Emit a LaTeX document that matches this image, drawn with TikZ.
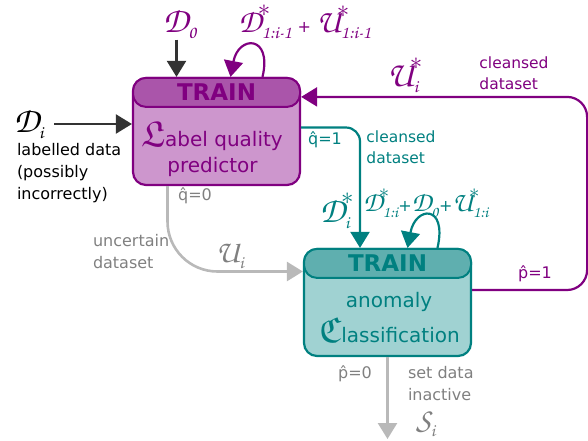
\documentclass[tikz,border=0pt]{standalone}
\usepackage{amsmath}
\usepackage{amssymb}
\usepackage{fontspec}
\setmainfont{DejaVu Sans}
\usetikzlibrary{arrows.meta,calc,positioning}
\newcommand{\chz}[1]{\text{\fontencoding{OT1}\fontfamily{pzc}\fontseries{m}\fontshape{it}\selectfont #1}}
\newcommand{\subsz}{18}
\newcommand{\dsym}[3]{$\chz{#1}^{#2}_{\text{\fontsize{\subsz}{\subsz}\fontencoding{OT1}\fontfamily{pzc}\fontseries{m}\fontshape{it}\selectfont #3}}$}
\newcommand{\dstr}{\kern-4pt\raisebox{0.12em}{$\scriptstyle\ast$}}
\newcommand{\splus}{{\fontsize{16}{16}\selectfont+}}
\definecolor{lqline}{RGB}{128,0,128}
\definecolor{lqhead}{RGB}{170,85,170}
\definecolor{lqbody}{RGB}{205,150,205}
\definecolor{acline}{RGB}{0,128,128}
\definecolor{achead}{RGB}{95,175,175}
\definecolor{acbody}{RGB}{160,210,210}
\definecolor{flowgrey}{RGB}{185,185,185}
\definecolor{txtgrey}{RGB}{128,128,128}
\tikzset{every picture/.style={line width=2pt},
  modelbox/.style={draw, rounded corners=13pt, line width=2.2pt, minimum width=167pt, minimum height=107pt, inner sep=0pt},
  headbox/.style={draw, rounded corners=13pt, line width=2pt, minimum width=167pt, minimum height=29pt, inner sep=0pt, font=\fontsize{23}{23}\selectfont\bfseries},
  boxtext/.style={font=\fontsize{20}{24}\selectfont, inner sep=0pt, anchor=base},
  lbl/.style={font=\fontsize{16}{22}\selectfont, align=left, inner sep=0pt},
  sym/.style={font=\fontsize{36}{36}\selectfont, inner sep=0pt},
  flow/.style={-{Triangle[length=16pt,width=19pt]}, line width=2.2pt}}

\begin{document}
\begin{tikzpicture}[x=1pt,y=1pt,yscale=-1]
\useasboundingbox (0,0) rectangle (588,440);

% label quality predictor
\node[modelbox, draw=lqline, fill=lqbody] (lqp) at (216.5,131.5) {};
\node[headbox, draw=lqline, fill=lqhead, text=lqline, anchor=north] (lqhd) at (lqp.north) {TRAIN};
\node[boxtext, text=lqline] (lqt1) at (212,146) {{\fontsize{36}{36}\selectfont$\mathfrak{L}$}abel quality};
\node[boxtext, text=lqline] (lqt2) at (212.5,172) {predictor};

% anomaly classification
\node[modelbox, draw=acline, fill=acbody] (acl) at (387.5,302.5) {};
\node[headbox, draw=acline, fill=achead, text=acline, anchor=north] (achd) at (acl.north) {TRAIN};
\node[boxtext, text=acline] (act1) at (389,307) {anomaly};
\node[boxtext, text=acline] (act2) at (389.5,342) {{\fontsize{36}{36}\selectfont$\mathfrak{C}$}lassification};

% inputs
\node[sym, text=lqline] (d0) at (180,24) {\dsym{D}{}{0}};
\coordinate (lqin) at ([xshift=-40pt]lqp.north);
\draw[flow, black!80] (d0.south -| lqin) -- (lqin);
\node[sym, text=lqline, font=\fontsize{33}{33}\selectfont] (dprev) at (305,22) {\renewcommand{\subsz}{18}\dsym{D}{\dstr}{1:i-1}\,\splus\,\dsym{U}{\dstr}{1:i-1}};
\draw[flow, lqline] ([xshift=46pt]lqp.north) .. controls +(10,-42) and +(8,-42) .. ([xshift=14pt]lqp.north);

\node[sym] (di) at (29,124) {\dsym{D}{}{i}};
\draw[flow, black!80] ([xshift=9pt]di.east) -- (di.east -| lqp.west);
\node[lbl, anchor=north west] (ldesc) at (16,142) {labelled data\\(possibly\\incorrectly)};

% cleansed by predictor
\draw[flow, acline, rounded corners=14pt] ([yshift=-4pt]lqp.east) -| ([xshift=-27.5pt]acl.north);
\node[lbl, text=acline, font=\fontsize{16}{16}\selectfont] (q1) at (325,140) {\^q=1};
\node[lbl, text=acline, font=\fontsize{15.5}{21}\selectfont] (ccl) at (401,147) {cleansed\\dataset};
\node[sym, text=acline] (dstar) at (337,211) {\dsym{D}{\dstr}{i}};
\node[sym, text=acline, font=\fontsize{28}{28}\selectfont] (dsum) at (426,203) {\renewcommand{\subsz}{16}\dsym{D}{\dstr}{1:i}\splus\dsym{D}{}{0}\splus\dsym{U}{\dstr}{1:i}};
\draw[flow, acline] ([xshift=50pt]acl.north) .. controls +(10,-44) and +(8,-42) .. ([xshift=20pt]acl.north);

% uncertain
\draw[flow, flowgrey, line width=2.6pt, rounded corners=50pt] ([xshift=-49pt]lqp.south) |- ([yshift=-31pt]acl.west);
\node[lbl, text=txtgrey] (q0) at (195,196) {\^q=0};
\node[lbl, text=txtgrey, anchor=west] (unc) at (92,252) {uncertain\\dataset};
\node[sym, text=txtgrey, font=\fontsize{32}{32}\selectfont] (ui) at (230,256) {\dsym{U}{}{i}};

% cleansed by classifier
\draw[flow, lqline, rounded corners=20pt] ([yshift=-12.5pt]acl.east) -- ++(115,0) |- ([yshift=20pt]lqp.north east);
\node[lbl, text=lqline] (p1) at (535,274) {\^p=1};
\node[sym, text=lqline] (ustar) at (405,75) {\dsym{U}{\dstr}{i}};
\node[lbl, text=lqline, font=\fontsize{15.5}{21}\selectfont] (ccp) at (514,73) {cleansed\\dataset};

% inactive
\coordinate (sout) at (387.5,439);
\draw[flow, flowgrey, line width=2.6pt] (acl.south) -- (sout);
\node[lbl, text=txtgrey] (p0) at (355,374) {\^p=0};
\node[lbl, text=txtgrey, anchor=west] (inact) at (407,384) {set data\\inactive};
\node[sym, text=txtgrey, font=\fontsize{32}{32}\selectfont] (si) at (426,424) {\dsym{S}{}{i}};
\end{tikzpicture}
\end{document}
